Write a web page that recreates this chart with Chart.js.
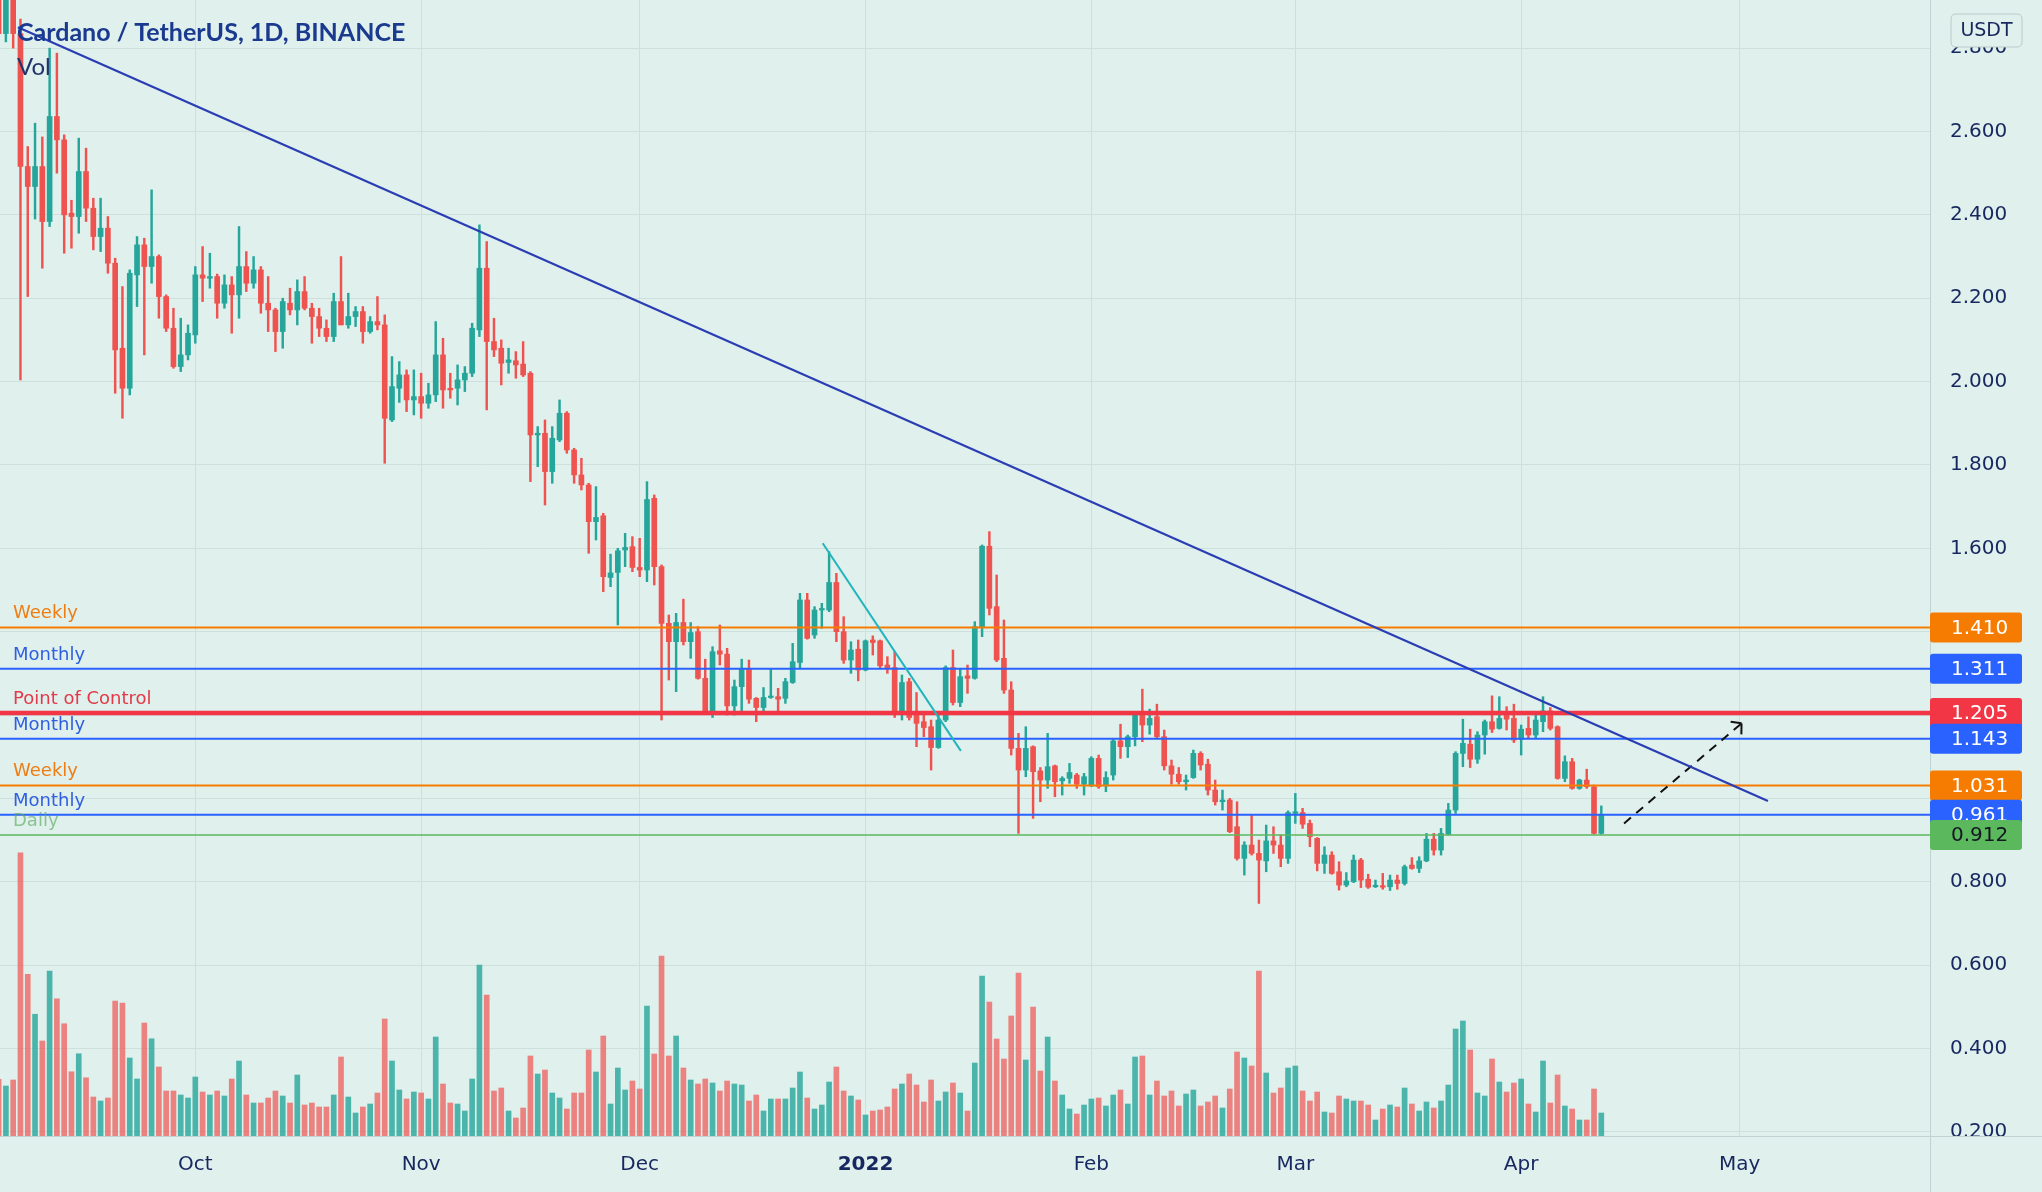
<!DOCTYPE html>
<html>
<head>
<meta charset="utf-8">
<script src="https://cdn.jsdelivr.net/npm/chart.js@4.4.0/dist/chart.umd.min.js"></script>
<style>
  html, body { margin: 0; padding: 0; background: #e0f0ed; overflow: hidden; }
</style>
</head>
<body>
<canvas id="chart" width="2042" height="1192"></canvas>
<script>
// Daily candles [open, high, low, close], ADA/USDT, one array per month
const sep21 = [
  [2.93,2.99,2.80,2.835],[2.835,2.97,2.815,2.93],[2.93,2.96,2.80,2.835],[2.835,2.87,2.004,2.516],
  [2.516,2.564,2.204,2.468],[2.468,2.62,2.39,2.516],[2.516,2.587,2.272,2.384],[2.384,2.80,2.372,2.636],
  [2.636,2.788,2.50,2.58],[2.58,2.592,2.308,2.40],[2.404,2.435,2.32,2.396],[2.396,2.584,2.356,2.504],
  [2.504,2.56,2.384,2.416],[2.416,2.44,2.316,2.348],[2.348,2.44,2.312,2.368],[2.368,2.396,2.26,2.284],
  [2.284,2.296,1.972,2.076],[2.08,2.228,1.912,1.984],[1.984,2.268,1.968,2.26],[2.256,2.348,2.18,2.328],
  [2.328,2.344,2.064,2.276],[2.276,2.46,2.236,2.30],[2.30,2.304,2.152,2.204],[2.204,2.208,2.12,2.128],
  [2.128,2.176,2.032,2.036],[2.036,2.152,2.024,2.064],[2.064,2.136,2.052,2.116]
];
const oct21 = [
  [2.112,2.276,2.092,2.256],[2.256,2.324,2.192,2.248],[2.248,2.308,2.224,2.252],[2.252,2.258,2.152,2.188],
  [2.188,2.256,2.176,2.232],[2.232,2.252,2.116,2.208],[2.208,2.372,2.152,2.276],[2.276,2.312,2.216,2.236],
  [2.236,2.30,2.224,2.268],[2.268,2.276,2.164,2.188],[2.188,2.252,2.12,2.172],[2.172,2.176,2.072,2.12],
  [2.12,2.20,2.08,2.192],[2.188,2.224,2.16,2.172],[2.172,2.244,2.136,2.216],[2.216,2.252,2.172,2.176],
  [2.176,2.188,2.092,2.156],[2.156,2.176,2.108,2.128],[2.128,2.148,2.096,2.108],[2.108,2.212,2.096,2.192],
  [2.192,2.30,2.136,2.136],[2.136,2.212,2.128,2.156],[2.156,2.18,2.132,2.168],[2.168,2.18,2.092,2.12],
  [2.12,2.156,2.116,2.144],[2.144,2.204,2.124,2.136],[2.136,2.16,1.804,1.912],[1.908,2.06,1.904,1.988],
  [1.984,2.048,1.95,2.016],[2.016,2.028,1.928,1.956],[1.956,2.028,1.92,1.964]
];
const nov21 = [
  [1.964,2.02,1.912,1.948],[1.948,1.996,1.936,1.968],[1.968,2.144,1.952,2.064],[2.064,2.104,1.936,1.98],
  [1.984,2.02,1.96,1.98],[1.984,2.04,1.944,2.004],[2.004,2.036,1.976,2.02],[2.02,2.14,2.012,2.128],
  [2.124,2.376,2.108,2.272],[2.272,2.336,1.932,2.096],[2.096,2.152,2.06,2.076],[2.08,2.10,1.992,2.044],
  [2.046,2.08,2.02,2.052],[2.05,2.072,2.008,2.04],[2.042,2.096,2.012,2.016],[2.02,2.024,1.76,1.872],
  [1.872,1.892,1.796,1.876],[1.876,1.908,1.704,1.784],[1.784,1.892,1.756,1.864],[1.86,1.956,1.856,1.924],
  [1.924,1.928,1.828,1.836],[1.836,1.84,1.756,1.776],[1.776,1.816,1.74,1.752],[1.752,1.756,1.588,1.664],
  [1.664,1.748,1.62,1.674],[1.678,1.684,1.496,1.532],[1.53,1.586,1.508,1.541],[1.542,1.60,1.416,1.594],
  [1.596,1.636,1.556,1.602],[1.604,1.628,1.544,1.554]
];
const dec21 = [
  [1.554,1.624,1.532,1.548],[1.548,1.76,1.52,1.717],[1.72,1.728,1.512,1.556],[1.556,1.56,1.188,1.42],
  [1.42,1.44,1.284,1.376],[1.376,1.444,1.256,1.422],[1.422,1.478,1.368,1.376],[1.376,1.422,1.336,1.398],
  [1.40,1.412,1.286,1.288],[1.288,1.334,1.204,1.206],[1.206,1.364,1.194,1.352],[1.354,1.416,1.32,1.346],
  [1.346,1.36,1.20,1.222],[1.222,1.284,1.20,1.268],[1.268,1.334,1.208,1.31],[1.31,1.332,1.228,1.238],
  [1.24,1.242,1.184,1.218],[1.218,1.266,1.208,1.242],[1.242,1.312,1.24,1.244],[1.244,1.264,1.21,1.238],
  [1.24,1.288,1.228,1.28],[1.278,1.372,1.276,1.328],[1.326,1.492,1.312,1.476],[1.476,1.492,1.382,1.384],
  [1.392,1.46,1.384,1.452],[1.452,1.468,1.408,1.455],[1.452,1.592,1.448,1.518],[1.518,1.54,1.376,1.40],
  [1.40,1.436,1.324,1.332],[1.332,1.376,1.30,1.356],[1.358,1.38,1.282,1.308]
];
const jan22 = [
  [1.308,1.38,1.306,1.378],[1.38,1.39,1.344,1.374],[1.378,1.38,1.312,1.318],[1.32,1.34,1.30,1.312],
  [1.314,1.352,1.194,1.208],[1.208,1.296,1.188,1.278],[1.28,1.288,1.188,1.194],[1.208,1.254,1.124,1.18],
  [1.184,1.206,1.148,1.17],[1.172,1.188,1.068,1.122],[1.122,1.20,1.12,1.188],[1.188,1.318,1.184,1.314],
  [1.314,1.356,1.224,1.23],[1.23,1.312,1.22,1.292],[1.294,1.32,1.252,1.288],[1.288,1.424,1.286,1.412],
  [1.412,1.608,1.388,1.605],[1.605,1.64,1.44,1.456],[1.46,1.536,1.328,1.332],[1.336,1.428,1.252,1.26],
  [1.26,1.28,1.104,1.12],[1.12,1.156,0.916,1.068],[1.068,1.172,1.052,1.12],[1.124,1.126,0.952,1.064],
  [1.066,1.074,0.992,1.044],[1.044,1.156,1.024,1.076],[1.078,1.08,1.004,1.04],[1.042,1.052,1.008,1.048],
  [1.048,1.084,1.036,1.062],[1.056,1.06,1.024,1.034],[1.034,1.06,1.008,1.052]
];
const feb22 = [
  [1.03,1.10,1.028,1.096],[1.096,1.104,1.024,1.028],[1.03,1.064,1.016,1.05],[1.056,1.144,1.044,1.138],
  [1.138,1.178,1.096,1.124],[1.124,1.152,1.098,1.148],[1.148,1.204,1.126,1.20],[1.20,1.262,1.136,1.176],
  [1.176,1.214,1.154,1.192],[1.196,1.226,1.144,1.148],[1.148,1.164,1.068,1.078],[1.078,1.092,1.034,1.058],
  [1.058,1.074,1.034,1.04],[1.04,1.056,1.02,1.044],[1.05,1.116,1.048,1.108],[1.108,1.112,1.068,1.08],
  [1.082,1.094,1.008,1.02],[1.02,1.044,0.984,0.992],[0.992,1.02,0.972,0.996],[0.996,1.0,0.918,0.92],
  [0.932,0.992,0.852,0.856],[0.856,0.896,0.816,0.888],[0.888,0.96,0.864,0.868],[0.868,0.90,0.748,0.852],
  [0.85,0.936,0.824,0.898],[0.898,0.932,0.868,0.888],[0.888,0.912,0.836,0.856],[0.856,0.97,0.844,0.966]
];
const mar22 = [
  [0.964,1.012,0.94,0.968],[0.966,0.976,0.928,0.938],[0.94,0.948,0.884,0.908],[0.904,0.906,0.826,0.844],
  [0.844,0.884,0.82,0.864],[0.864,0.872,0.818,0.82],[0.824,0.848,0.78,0.792],[0.792,0.822,0.788,0.802],
  [0.80,0.864,0.798,0.852],[0.852,0.856,0.786,0.804],[0.806,0.818,0.784,0.787],[0.788,0.804,0.786,0.79],
  [0.79,0.82,0.782,0.787],[0.788,0.816,0.779,0.804],[0.804,0.816,0.782,0.796],[0.796,0.84,0.792,0.836],
  [0.84,0.858,0.83,0.832],[0.832,0.86,0.822,0.85],[0.85,0.916,0.848,0.902],[0.902,0.916,0.864,0.876],
  [0.876,0.928,0.864,0.916],[0.914,0.988,0.912,0.972],[0.972,1.112,0.964,1.108],[1.108,1.19,1.076,1.132],
  [1.13,1.166,1.074,1.094],[1.094,1.16,1.084,1.152],[1.152,1.188,1.106,1.184],[1.184,1.246,1.158,1.166],
  [1.168,1.244,1.166,1.192],[1.206,1.22,1.164,1.19],[1.192,1.226,1.134,1.14]
];
const apr22 = [
  [1.142,1.176,1.104,1.166],[1.168,1.196,1.144,1.152],[1.152,1.20,1.144,1.188],[1.184,1.244,1.16,1.21],
  [1.21,1.218,1.164,1.168],[1.172,1.174,1.046,1.048],[1.048,1.102,1.04,1.088],[1.088,1.096,1.022,1.024],
  [1.024,1.046,1.022,1.044],[1.044,1.07,1.024,1.028],[1.028,1.032,0.914,0.916],[0.916,0.982,0.914,0.96]
];

// Daily volume (millions of ADA), same days as the candles
const volSep21 = [227,200,224,1133,647,487,380,660,549,449,257,329,233,156,140,152,540,532,312,228,452,389,276,180,180,164,152];
const volOct21 = [236,176,164,180,160,228,300,164,132,132,152,180,160,132,244,124,132,116,116,164,316,156,92,116,128,172,468,300,184,148,176];
const volNov21 = [172,148,396,208,132,128,100,228,684,564,180,192,100,72,112,320,248,264,172,152,108,172,172,344,256,400,128,272,184,220];
const volDec21 = [188,520,328,720,320,400,272,224,208,228,212,180,220,208,204,140,164,100,148,148,148,192,256,152,108,124,216,276,180,160,144];
const volJan22 = [84,100,104,116,188,208,248,204,136,224,140,176,212,172,100,292,640,536,388,308,480,652,304,516,260,396,220,164,108,88,124];
const volFeb22 = [148,152,120,164,184,128,316,320,164,220,160,180,120,168,184,120,136,160,112,188,336,312,280,660,252,172,192,272];
const volMar22 = [280,180,140,176,96,92,160,148,140,140,124,64,108,124,116,192,128,100,136,112,140,204,428,460,344,172,160,308,216,176,212];
const volApr22 = [228,128,96,300,132,244,120,108,64,64,188,92];

const firstDate = '2021-09-04';

// Axis ticks
const monthTicks = ['2021-10-01','2021-11-01','2021-12-01','2022-01-01','2022-02-01','2022-03-01','2022-04-01','2022-05-01'];
const monthLabels = ['Oct','Nov','Dec','2022','Feb','Mar','Apr','May'];
const priceTicks = [0.2,0.4,0.6,0.8,1.0,1.2,1.4,1.6,1.8,2.0,2.2,2.4,2.6,2.8];

// Horizontal levels
const levelNames = ['Weekly','Monthly','Point of Control','Monthly','Weekly','Monthly','Daily'];
const levelPrices = [1.410,1.311,1.205,1.143,1.031,0.961,0.912];

// Drawn lines: [date, price] end points
const downTrend = [['2021-09-06T15:30', 2.850], ['2022-05-04T21:00', 0.994]];
const shortTrend = [['2021-12-26T03:00', 1.612], ['2022-01-14T02:00', 1.114]];
const projection = [['2022-04-15T03:00', 0.940], ['2022-05-01T06:00', 1.180]];

// ---- styling ----
const BG = '#e0f0ed';
const GRID = '#cde0dc';
const TEXT = '#17275f';
const UP = '#26a69a', DOWN = '#ef5350';
const UP_VOL = 'rgba(38,166,154,0.8)', DOWN_VOL = 'rgba(239,83,80,0.7)';
const levelColors = ['#f57c00','#2962ff','#f23645','#2962ff','#f57c00','#2962ff','#5cb85c'];
const levelTextColors = ['#ee7d14','#2f5fe0','#e23a48','#2f5fe0','#ee7d14','#2f5fe0','rgba(92,170,96,0.65)'];
const levelWidths = [2, 2, 4.5, 2, 2, 2, 1.6];
const badgeTextColors = ['#fff','#fff','#fff','#fff','#fff','#fff','#131722'];

const X_MIN = -26.81, X_MAX = 238.12;   // days from 2021-10-01
const Y_MIN = 0.19, Y_MAX = 2.9155;
const VOL_MAX = 4544;

const dayOf = s => (Date.parse(s.length > 10 ? s + 'Z' : s) - Date.parse('2021-10-01')) / 864e5;

const candles = [...sep21, ...oct21, ...nov21, ...dec21, ...jan22, ...feb22, ...mar22, ...apr22];
const volumes = [...volSep21, ...volOct21, ...volNov21, ...volDec21, ...volJan22, ...volFeb22, ...volMar22, ...volApr22];
const x0 = dayOf(firstDate);
const isUp = c => c[3] >= c[0];

const segment = (pts) => pts.map(p => ({ x: dayOf(p[0]), y: p[1] }));

const levelSets = levelPrices.map((p, i) => ({
  type: 'line',
  data: [{ x: X_MIN, y: p }, { x: X_MAX, y: p }],
  borderColor: levelColors[i],
  borderWidth: levelWidths[i],
  pointRadius: 0,
  order: 1
}));

function drawLine(pts, color, width, dash) {
  return {
    type: 'line',
    data: segment(pts),
    borderColor: color,
    borderWidth: width,
    borderDash: dash || [],
    pointRadius: 0,
    order: 0
  };
}

function roundRect(ctx, x, y, w, h, r) {
  ctx.beginPath();
  ctx.moveTo(x + r, y);
  ctx.lineTo(x + w - r, y);
  ctx.quadraticCurveTo(x + w, y, x + w, y + r);
  ctx.lineTo(x + w, y + h - r);
  ctx.quadraticCurveTo(x + w, y + h, x + w - r, y + h);
  ctx.lineTo(x + r, y + h);
  ctx.quadraticCurveTo(x, y + h, x, y + h - r);
  ctx.lineTo(x, y + r);
  ctx.quadraticCurveTo(x, y, x + r, y);
  ctx.closePath();
}

const decor = {
  id: 'decor',
  beforeDraw(chart) {
    const ctx = chart.ctx;
    ctx.save();
    ctx.fillStyle = BG;
    ctx.fillRect(0, 0, chart.width, chart.height);
    ctx.restore();
  },
  afterDatasetsDraw(chart) {
    const { ctx, scales: { x, y } } = chart;
    ctx.save();
    // level captions
    ctx.font = '18px "DejaVu Sans"';
    ctx.textAlign = 'left';
    ctx.textBaseline = 'alphabetic';
    levelNames.forEach((name, i) => {
      ctx.fillStyle = levelTextColors[i];
      ctx.fillText(name, 13, y.getPixelForValue(levelPrices[i]) - 9);
    });
    // projection arrow head
    const a = segment(projection).map(p => ({ x: x.getPixelForValue(p.x), y: y.getPixelForValue(p.y) }));
    const ang = Math.atan2(a[1].y - a[0].y, a[1].x - a[0].x);
    ctx.strokeStyle = '#111';
    ctx.lineWidth = 2;
    ctx.setLineDash([]);
    [-0.85, 0.85].forEach(s => {
      const t = ang + Math.PI + s;
      ctx.beginPath();
      ctx.moveTo(a[1].x, a[1].y);
      ctx.lineTo(a[1].x + 11 * Math.cos(t), a[1].y + 11 * Math.sin(t));
      ctx.stroke();
    });
    ctx.restore();
  },
  afterDraw(chart) {
    const { ctx, chartArea: ca, scales: { y } } = chart;
    ctx.save();
    // cut the price scale at the time axis
    ctx.fillStyle = BG;
    ctx.fillRect(ca.right + 1, ca.bottom + 1, chart.width - ca.right, chart.height - ca.bottom);
    ctx.strokeStyle = '#bfd2cf';
    ctx.lineWidth = 1;
    ctx.beginPath();
    ctx.moveTo(ca.right + 0.5, 0); ctx.lineTo(ca.right + 0.5, chart.height);
    ctx.moveTo(0, ca.bottom + 0.5); ctx.lineTo(chart.width, ca.bottom + 0.5);
    ctx.stroke();

    // price badges
    ctx.font = '20px "DejaVu Sans"';
    ctx.textBaseline = 'middle';
    ctx.textAlign = 'left';
    levelPrices.forEach((p, i) => {
      const cy = y.getPixelForValue(p);
      roundRect(ctx, ca.right, cy - 15, 92, 30, 3);
      ctx.fillStyle = levelColors[i];
      ctx.fill();
      ctx.fillStyle = badgeTextColors[i];
      ctx.fillText(p.toFixed(3), ca.right + 21, cy + 1);
    });

    // currency badge
    roundRect(ctx, 1951, 14, 71, 33, 5);
    ctx.fillStyle = BG;
    ctx.fill();
    ctx.strokeStyle = '#b9cbc8';
    ctx.stroke();
    ctx.fillStyle = TEXT;
    ctx.font = '19px "DejaVu Sans"';
    ctx.textAlign = 'center';
    ctx.fillText('USDT', 1986.5, 31);

    // title
    ctx.textAlign = 'left';
    ctx.textBaseline = 'alphabetic';
    ctx.fillStyle = '#1a3a90';
    ctx.font = 'bold 25px Lato';
    ctx.fillText('Cardano / TetherUS, 1D, BINANCE', 17, 41);
    ctx.fillStyle = '#22346e';
    ctx.font = '24px Lato';
    ctx.fillText('Vol', 17, 75);
    ctx.restore();
  }
};

Chart.defaults.font.family = '"DejaVu Sans"';

new Chart(document.getElementById('chart'), {
  type: 'bar',
  data: {
    datasets: [
      drawLine(downTrend, '#2a3db3', 2.2),
      drawLine(shortTrend, '#22b4bd', 2),
      drawLine(projection, '#111', 2, [9, 7]),
      ...levelSets,
      {
        label: 'body',
        data: candles.map((c, i) => ({ x: x0 + i, y: [c[0], c[3]] })),
        backgroundColor: candles.map(c => isUp(c) ? UP : DOWN),
        barThickness: 5,
        minBarLength: 1.5,
        grouped: false,
        order: 2
      },
      {
        label: 'wick',
        data: candles.map((c, i) => ({ x: x0 + i, y: [c[2], c[1]] })),
        backgroundColor: candles.map(c => isUp(c) ? UP : DOWN),
        barThickness: 1.8,
        grouped: false,
        order: 3
      },
      {
        label: 'volume',
        yAxisID: 'v',
        data: volumes.map((v, i) => ({ x: x0 + i, y: v })),
        backgroundColor: candles.map(c => isUp(c) ? UP_VOL : DOWN_VOL),
        barThickness: 5,
        grouped: false,
        order: 4
      }
    ]
  },
  options: {
    responsive: false,
    animation: false,
    events: [],
    layout: { padding: 0, autoPadding: false },
    plugins: { legend: { display: false }, tooltip: { enabled: false } },
    scales: {
      x: {
        type: 'linear',
        min: X_MIN,
        max: X_MAX,
        offset: false,
        afterFit: s => { s.height = 56; s.paddingLeft = 0; s.paddingRight = 0; },
        afterBuildTicks: s => { s.ticks = monthTicks.map(d => ({ value: dayOf(d) })); },
        grid: { color: GRID, drawTicks: false, offset: false },
        border: { display: false },
        ticks: {
          autoSkip: false,
          maxRotation: 0,
          padding: 17,
          color: TEXT,
          font: ctx => ({ family: '"DejaVu Sans"', size: 20, weight: ctx.index === 3 ? 'bold' : 'normal' }),
          callback: (v, i) => monthLabels[i]
        }
      },
      y: {
        position: 'right',
        min: Y_MIN,
        max: Y_MAX,
        afterFit: s => { s.width = 112; s.paddingTop = 0; s.paddingBottom = 0; },
        afterBuildTicks: s => { s.ticks = priceTicks.map(v => ({ value: v })); },
        grid: { color: GRID, drawTicks: false },
        border: { display: false },
        ticks: {
          padding: 20,
          color: TEXT,
          font: { size: 20 },
          callback: v => v.toFixed(3)
        }
      },
      v: {
        display: false,
        min: 0,
        max: VOL_MAX
      }
    }
  },
  plugins: [decor]
});
</script>
</body>
</html>
